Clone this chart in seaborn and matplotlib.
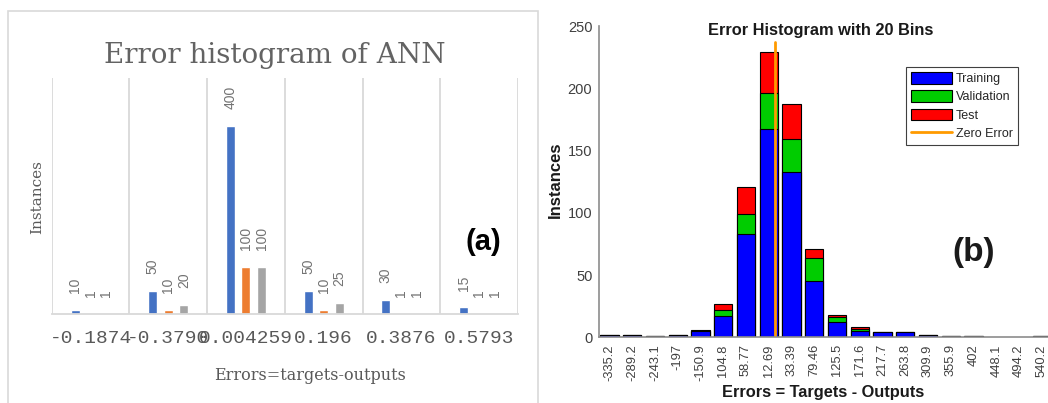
import numpy as np
import pandas as pd
import matplotlib
matplotlib.use('Agg')
import matplotlib.pyplot as plt
import seaborn as sns
from matplotlib.patches import Patch, Rectangle
from matplotlib.lines import Line2D

# Panel (a): grouped error histogram of the ANN
ann_bins = ['-0.1874', '-0.3790', '0.004259', '0.196', '0.3876', '0.5793']
ann_series = ['Training', 'Validation', 'Test']
ann_training = [10, 50, 400, 50, 30, 15]
ann_validation = [1, 10, 100, 10, 1, 1]
ann_test = [1, 20, 100, 25, 1, 1]
ann_colors = ['#4472C4', '#ED7D31', '#A5A5A5']

# Panel (b): stacked 20-bin error histogram
bin_centers = [-335.2, -289.2, -243.1, -197, -150.9, -104.8, -58.77, -12.69,
               33.39, 79.46, 125.5, 171.6, 217.7, 263.8, 309.9, 355.9,
               402, 448.1, 494.2, 540.2]
bin_labels = ['-335.2', '-289.2', '-243.1', '-197', '-150.9', '104.8', '58.77',
              '12.69', '33.39', '79.46', '125.5', '171.6', '217.7', '263.8',
              '309.9', '355.9', '402', '448.1', '494.2', '540.2']
hist_training = [2, 2, 1, 2, 5, 17, 83, 167, 133, 45, 12, 5, 4, 4, 2, 1, 1, 0, 0, 1]
hist_validation = [0, 0, 0, 0, 0, 5, 16, 29, 26, 19, 4, 2, 0, 0, 0, 0, 0, 0, 0, 0]
hist_test = [0, 0, 0, 0, 1, 5, 22, 33, 28, 7, 2, 1, 0, 0, 0, 0, 0, 0, 0, 0]
hist_series = ['Training', 'Validation', 'Test', 'Zero Error']
hist_colors = ['#0000FF', '#00CC00', '#FF0000', '#FF9A00']

sns.set_style('white')
plt.rcParams['font.family'] = ['Liberation Sans', 'DejaVu Sans']

W, H = 1048, 403
fig = plt.figure(figsize=(W / 100, H / 100), dpi=100)


def fx(px):
    return px / W


def fy(py):
    return 1 - py / H


# ---------------- panel (a) ----------------
fig.patches.append(Rectangle((fx(8), fy(430)), fx(538) - fx(8), fy(11) - fy(430),
                             transform=fig.transFigure, fill=False,
                             edgecolor='#D9D9D9', lw=1.2))

a_l, a_r, a_b, a_t = 51.7, 518, 314.3, 78.3
axa = fig.add_axes([fx(a_l), fy(a_b), fx(a_r) - fx(a_l), fy(a_t) - fy(a_b)])
axa.set_facecolor('none')

df_a = pd.DataFrame({
    'bin': ann_bins * 3,
    'series': np.repeat(ann_series, len(ann_bins)),
    'count': ann_training + ann_validation + ann_test,
})
sns.barplot(data=df_a, x='bin', y='count', hue='series', order=ann_bins,
            hue_order=ann_series, palette=ann_colors, saturation=1,
            width=0.6, gap=0.42, errorbar=None, legend=False, ax=axa)
for cont in axa.containers:
    axa.bar_label(cont, fmt='%g', rotation=90, padding=12, color='#737373',
                  fontsize=10)

axa.set_ylim(0, 500)
axa.set_xlim(-0.5, len(ann_bins) - 0.5)
axa.set_yticks([])
for s in ('left', 'top', 'right'):
    axa.spines[s].set_visible(False)
axa.spines['bottom'].set_color('#D9D9D9')
axa.spines['bottom'].set_linewidth(1.3)
axa.set_xticks(np.arange(-0.5, len(ann_bins)), minor=True)
axa.grid(which='minor', axis='x', color='#D9D9D9', lw=1.3)
axa.tick_params(axis='x', which='both', length=0, pad=11)
for lbl in axa.get_xticklabels():
    lbl.set_fontfamily('Liberation Mono')
    lbl.set_fontsize(14)
    lbl.set_color('#595959')

axa.set_xlabel('Errors=targets-outputs', fontfamily='DejaVu Serif',
               fontsize=11.5, color='#595959')
axa.xaxis.set_label_coords((310 - a_l) / (a_r - a_l), (a_b - 367) / (a_b - a_t))
axa.set_ylabel('Instances', fontfamily='DejaVu Serif', fontsize=11,
               color='#595959', va='center')
axa.yaxis.set_label_coords((37 - a_l) / (a_r - a_l), (a_b - 197) / (a_b - a_t))
axa.set_title('Error histogram of ANN', fontfamily='DejaVu Serif', fontsize=20,
              color='#636363', x=(275 - a_l) / (a_r - a_l),
              y=(a_b - 63) / (a_b - a_t), va='baseline', pad=0)

fig.text(fx(483), fy(242), '(a)', ha='center', va='center', fontsize=21,
         fontweight='bold', color='black')

# ---------------- panel (b) ----------------
b_l, b_r, b_b, b_t = 599.3, 1053.1, 337.3, 26
axb = fig.add_axes([fx(b_l), fy(b_b), fx(b_r) - fx(b_l), fy(b_t) - fy(b_b)])

df_b = pd.DataFrame({'bin': bin_labels, 'training': hist_training,
                     'validation': hist_validation, 'test': hist_test})
df_b['train_val'] = df_b['training'] + df_b['validation']
df_b['total'] = df_b['train_val'] + df_b['test']

for col, color in [('total', hist_colors[2]), ('train_val', hist_colors[1]),
                   ('training', hist_colors[0])]:
    sns.barplot(data=df_b, x='bin', y=col, order=bin_labels, color=color,
                saturation=1, width=0.8, edgecolor='black', linewidth=0.8,
                errorbar=None, ax=axb)
for p in axb.patches:
    if p.get_height() == 0:
        p.set_linewidth(0)

zero_pos = np.interp(0, bin_centers, np.arange(len(bin_centers)))
axb.axvline(zero_pos, ymin=0, ymax=0.95, color=hist_colors[3], lw=2)

axb.set_ylim(0, 250)
axb.set_yticks(np.arange(0, 251, 50))
axb.set_xlim(-0.45, len(bin_labels) - 0.5)
for s in ('top', 'right'):
    axb.spines[s].set_visible(False)
for s in ('left', 'bottom'):
    axb.spines[s].set_color('#8C8C8C')
    axb.spines[s].set_linewidth(1.2)
axb.tick_params(axis='x', direction='in', length=3, color='#8C8C8C', pad=5,
                labelsize=9.3, labelcolor='#404040', labelrotation=90)
axb.tick_params(axis='y', direction='out', length=3, color='#8C8C8C', pad=2,
                labelsize=10.5, labelcolor='#404040')

axb.set_xlabel('Errors = Targets - Outputs', fontsize=11.8, fontweight='bold',
               color='#1A1A1A')
axb.xaxis.set_label_coords((823 - b_l) / (b_r - b_l), (b_b - 385) / (b_b - b_t))
axb.set_ylabel('Instances', fontsize=12, fontweight='bold', color='#1A1A1A',
               va='center')
axb.yaxis.set_label_coords((555 - b_l) / (b_r - b_l), (b_b - 180) / (b_b - b_t))
axb.set_title('Error Histogram with 20 Bins', fontsize=11.8, fontweight='bold',
              color='#1A1A1A', x=(821 - b_l) / (b_r - b_l),
              y=(b_b - 35) / (b_b - b_t), va='baseline', pad=0)

handles = [Patch(facecolor=c, edgecolor='black', lw=0.8) for c in hist_colors[:3]]
handles.append(Line2D([], [], color=hist_colors[3], lw=2))
axb.legend(handles, hist_series, loc='upper left',
           bbox_to_anchor=(fx(906), fy(67)), bbox_transform=fig.transFigure,
           borderaxespad=0, fontsize=9, handlelength=3.3, handleheight=1.05,
           labelspacing=0.42, handletextpad=0.3, borderpad=0.4,
           fancybox=False, framealpha=1, edgecolor='#404040')
axb.get_legend().get_frame().set_linewidth(0.8)

fig.text(fx(974), fy(252), '(b)', ha='center', va='center', fontsize=24,
         fontweight='bold', color='#1A1A1A')

fig.savefig('out.png', dpi=100)
